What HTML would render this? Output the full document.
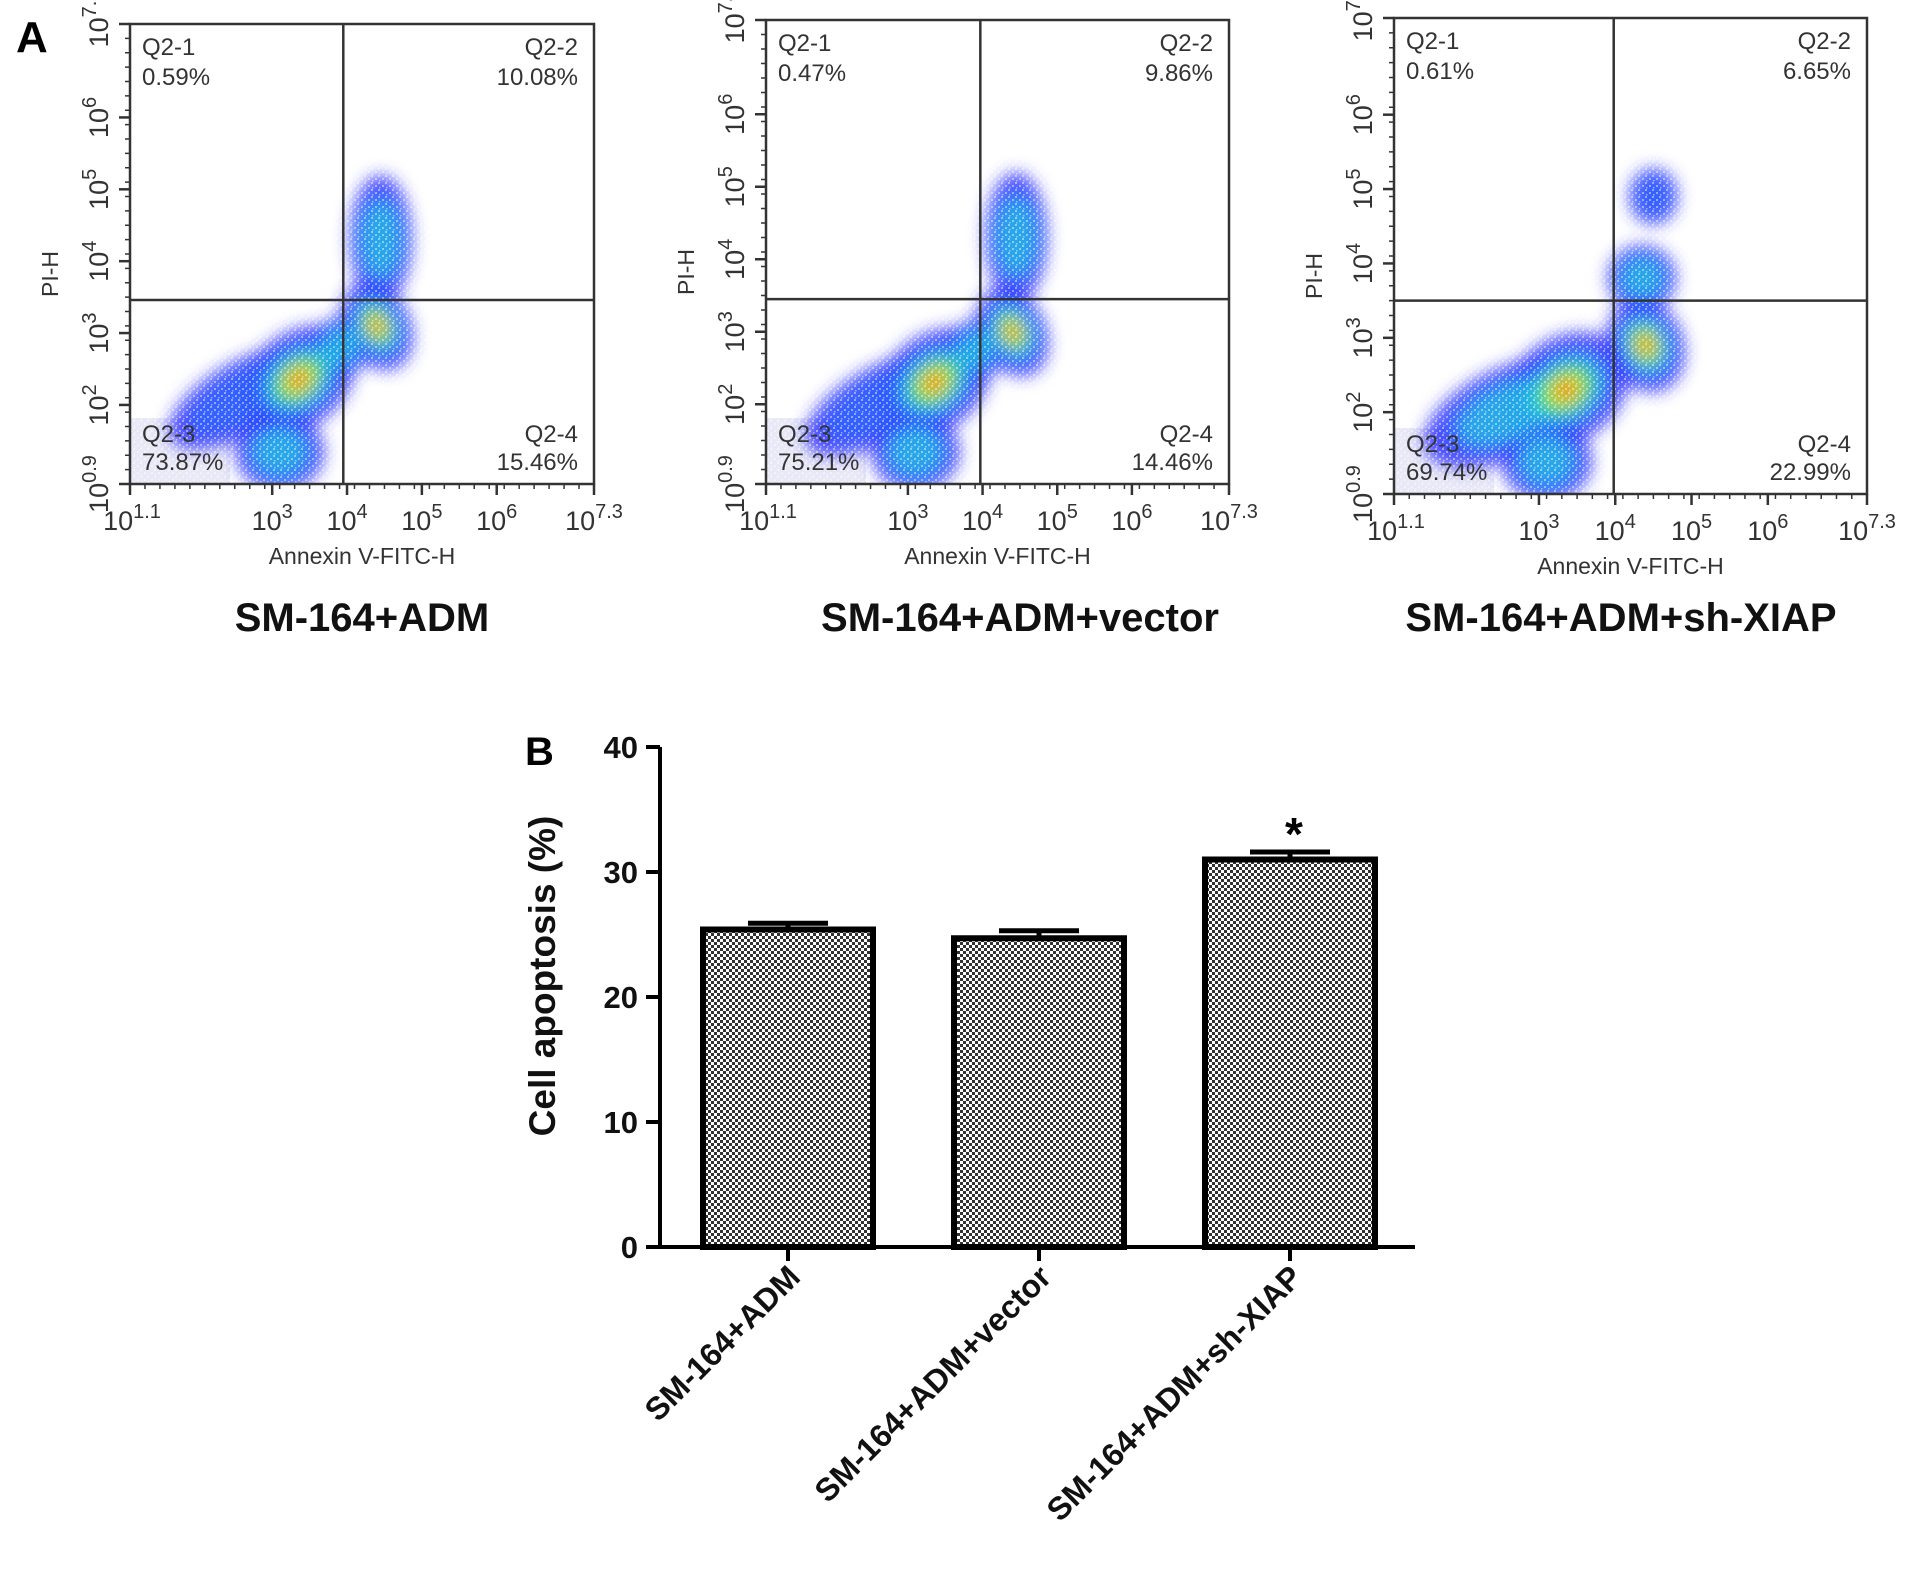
<!DOCTYPE html>
<html><head><meta charset="utf-8"><style>
html,body{margin:0;padding:0;background:#fff;width:1913px;height:1586px;overflow:hidden}
svg{display:block;font-family:"Liberation Sans",Arial,sans-serif}
</style></head><body>
<svg id="fig" width="1913" height="1586" viewBox="0 0 1913 1586">
<defs>
<filter id="blur" x="-50%" y="-50%" width="200%" height="200%"><feGaussianBlur stdDeviation="8"/></filter>
<pattern id="hatch" width="6" height="6" patternUnits="userSpaceOnUse">
<rect width="6" height="6" fill="#fff"/><rect width="3" height="3" fill="#333"/><rect x="3" y="3" width="3" height="3" fill="#333"/>
</pattern>
<pattern id="speck" width="7" height="7" patternUnits="userSpaceOnUse">
<rect x="0" y="0" width="2" height="2" fill="#fff"/><rect x="4" y="3" width="2" height="2" fill="#fff"/><rect x="1" y="5" width="1.5" height="1.5" fill="#fff"/>
</pattern>
</defs>
<text x="16" y="52" font-size="44" font-weight="bold">A</text>
<text x="525" y="765" font-size="40" font-weight="bold">B</text>
<g id="flow"></g>
<g id="bars"></g>
</svg>
<script>
// ---------- Flow cytometry panels ----------
const panelTitles = ["SM-164+ADM", "SM-164+ADM+vector", "SM-164+ADM+sh-XIAP"];
const q1Values = ["0.59%", "0.47%", "0.61%"];
const q2Values = ["10.08%", "9.86%", "6.65%"];
const q3Values = ["73.87%", "75.21%", "69.74%"];
const q4Values = ["15.46%", "14.46%", "22.99%"];
const gateX = [3.95, 3.97, 3.98];
const gateY = [3.46, 3.45, 3.5];
const xTicks = [1.1, 3, 4, 5, 6, 7.3];
const xTickLabels = ["1.1", "3", "4", "5", "6", "7.3"];
const yTicks = [0.9, 2, 3, 4, 5, 6, 7.3];
const yTickLabels = ["0.9", "2", "3", "4", "5", "6", "7."];
// clusters: [logX, logY, spreadX, spreadY, tiltDeg, density]
const clusters1 = [[2.6,2.1,1.1,0.5,30,0.4],[3.35,2.35,0.85,0.65,40,1],[3.1,1.35,0.6,0.55,0,0.5],[4.4,3.1,0.45,0.65,25,0.95],[4.45,4.3,0.42,0.9,0,0.45],[3.9,2.8,0.5,0.4,40,0.5]];
const clusters2 = [[2.6,2.0,1.1,0.5,30,0.4],[3.35,2.3,0.85,0.65,40,1],[3.1,1.35,0.6,0.55,0,0.5],[4.4,3.0,0.45,0.65,25,0.95],[4.45,4.3,0.42,0.9,0,0.45],[3.9,2.75,0.5,0.4,40,0.5]];
const clusters3 = [[2.6,2.0,1.2,0.6,25,0.45],[3.35,2.3,0.9,0.7,35,1],[3.1,1.35,0.6,0.55,0,0.5],[4.4,2.9,0.5,0.65,20,0.9],[4.35,3.8,0.45,0.45,0,0.45],[4.5,4.9,0.32,0.38,0,0.4]];
const allClusters = [clusters1, clusters2, clusters3];
const boxes = [[130,24,594,484],[766,20,1229,484],[1394,18,1867,494]];
const titleX = [362, 1020, 1621];

const NS = "http://www.w3.org/2000/svg";
function mk(tag, attrs, parent){const e=document.createElementNS(NS,tag);for(const k in attrs)e.setAttribute(k,attrs[k]);parent.appendChild(e);return e;}
const flow = document.getElementById("flow");

boxes.forEach((b,i)=>{
  const [x0,y0,x1,y1]=b, W=x1-x0, H=y1-y0;
  const sx = v => x0 + (v-1.1)/6.2*W;
  const sy = v => y1 - (v-0.9)/6.4*H;
  const g = mk("g",{},flow);
  
  
  const cp = mk("clipPath",{id:"cp"+i},g);
  mk("rect",{x:x0,y:y0,width:W,height:H},cp);
  const dens = mk("g",{"clip-path":"url(#cp"+i+")"},g);
  mk("rect",{x:x0,y:y1-66,width:100,height:66,fill:"#e8e8f6"},dens);
  const blobs = mk("g",{filter:"url(#blur)"},dens);
  const layers=[[1.0,"#2e2eff",0.85,0],[0.72,"#2a6bff",0.7,0.3],[0.58,"#22c8e0",0.7,0.45],[0.44,"#3ee040",0.8,0.55],[0.28,"#e4e020",0.85,0.85],[0.14,"#ff3a10",0.9,0.9]];
  layers.forEach(([s,col,op,minD])=>{
    allClusters[i].forEach(c=>{
      if(c[5]<minD) return;
      const cx=sx(c[0]), cy=sy(c[1]);
      const rx=c[2]/6.2*W*s, ry=c[3]/6.4*H*s;
      const e=mk("ellipse",{cx:cx,cy:cy,rx:rx,ry:ry,fill:col,opacity:op,transform:`rotate(${-c[4]} ${cx} ${cy})`},blobs);
      
      
    });
  });
  mk("rect",{x:x0,y:y0,width:W,height:H,fill:"url(#speck)",opacity:0.45},dens);
  const box=mk("rect",{x:x0,y:y0,width:W,height:H,fill:"none",stroke:"#333","stroke-width":2.5},g);
  
  
  const gv=mk("line",{x1:sx(gateX[i]),x2:sx(gateX[i]),y1:y0,y2:y1,stroke:"#333","stroke-width":2.5},g);
  
  
  const gh=mk("line",{x1:x0,x2:x1,y1:sy(gateY[i]),y2:sy(gateY[i]),stroke:"#333","stroke-width":2.5},g);
  
  
  for(let v=1.1;v<=7.3;v+=0.2){mk("line",{x1:sx(v),x2:sx(v),y1:y1,y2:y1+5,stroke:"#333","stroke-width":1.5},g);}
  for(let v=0.9;v<=7.3;v+=0.2){mk("line",{x1:x0,x2:x0-5,y1:sy(v),y2:sy(v),stroke:"#333","stroke-width":1.5},g);}
  xTicks.forEach((t,k)=>{
    mk("line",{x1:sx(t),x2:sx(t),y1:y1,y2:y1+11,stroke:"#333","stroke-width":2.5},g);
    const tx=mk("text",{x:sx(t)+(k==0?2:0),y:y1+46,"font-size":27,fill:"#333","text-anchor":"middle"},g);
    
    
    tx.innerHTML=`10<tspan dy="-12" font-size="20">${xTickLabels[k]}</tspan>`;
  });
  yTicks.forEach((t,k)=>{
    mk("line",{x1:x0,x2:x0-11,y1:sy(t),y2:sy(t),stroke:"#333","stroke-width":2.5},g);
    const px=x0-22, py=sy(t);
    const ty=mk("text",{x:px,y:py,"font-size":27,fill:"#333","text-anchor":"middle",transform:`rotate(-90 ${px} ${py})`},g);
    
    
    ty.innerHTML=`10<tspan dy="-12" font-size="20">${yTickLabels[k]}</tspan>`;
  });
  const yl=mk("text",{x:x0-72,y:(y0+y1)/2+20,"font-size":23,fill:"#333","text-anchor":"middle",transform:`rotate(-90 ${x0-72} ${(y0+y1)/2+20})`},g);
  yl.textContent="PI-H";
  
  
  const xl=mk("text",{x:(x0+x1)/2,y:y1+80,"font-size":23,fill:"#333","text-anchor":"middle"},g);
  xl.textContent="Annexin V-FITC-H";
  
  
  const tt=mk("text",{x:titleX[i],y:631,"font-size":40,"font-weight":"bold",fill:"#111","text-anchor":"middle"},g);
  tt.textContent=panelTitles[i];
  
  
  const q=[["Q2-1",q1Values[i],x0+12,y0+31,"start"],["Q2-2",q2Values[i],x1-16,y0+31,"end"],["Q2-3",q3Values[i],x0+12,y1-42,"start"],["Q2-4",q4Values[i],x1-16,y1-42,"end"]];
  q.forEach(([a,bv,qx,qy,an],qi)=>{
    const t1=mk("text",{x:qx,y:qy,"font-size":24,fill:"#333","text-anchor":an},g);
    t1.textContent=a;
    
    
    const t2=mk("text",{x:qx,y:qy+(qi<2?30:28),"font-size":24,fill:"#333","text-anchor":an},g);
    t2.textContent=bv;
    
    
  });
});

// ---------- Bar chart ----------
const barCategories = ["SM-164+ADM", "SM-164+ADM+vector", "SM-164+ADM+sh-XIAP"];
const barValues = [25.4, 24.7, 31.0];
const barErrors = [0.5, 0.6, 0.6];
const barSignif = ["", "", "*"];
const barTicks = [0, 10, 20, 30, 40];

const bars=document.getElementById("bars");
const AX=660, AY0=1247, AY40=747, AXR=1415;
const yS=v=>AY0-(v/40)*(AY0-AY40);
const xC=i=>788+i*251;
const BW=170;
barValues.forEach((v,i)=>{
  const cx=xC(i);
  const eb=mk("g",{},bars);
  const top=yS(v+barErrors[i]);
  mk("line",{x1:cx,x2:cx,y1:yS(v),y2:top,stroke:"#000","stroke-width":5},eb);
  mk("line",{x1:cx-40,x2:cx+40,y1:top,y2:top,stroke:"#000","stroke-width":5},eb);
  
  
  const r=mk("rect",{x:cx-BW/2,y:yS(v),width:BW,height:AY0-yS(v),fill:"url(#hatch)",stroke:"#000","stroke-width":6},bars);
  
  
  mk("line",{x1:cx,x2:cx,y1:AY0,y2:AY0+14,stroke:"#000","stroke-width":4},bars);
  if(barSignif[i]){
    const s=mk("text",{x:cx+4,y:top-2,"font-size":46,"font-weight":"bold","text-anchor":"middle"},bars);
    s.textContent=barSignif[i];
    
    
  }
  const lx=cx+14, ly=AY0+32;
  const lt=mk("text",{x:lx,y:ly,"font-size":32,"font-weight":"bold","text-anchor":"end",fill:"#111",transform:`rotate(-45 ${lx} ${ly})`},bars);
  lt.textContent=barCategories[i];
  
  
});
const ya=mk("line",{x1:AX,x2:AX,y1:AY40,y2:AY0+2,stroke:"#000","stroke-width":4},bars);


const xa=mk("line",{x1:AX-2,x2:AXR,y1:AY0,y2:AY0,stroke:"#000","stroke-width":4},bars);


barTicks.forEach(t=>{
  mk("line",{x1:AX,x2:AX-14,y1:yS(t),y2:yS(t),stroke:"#000","stroke-width":4},bars);
  const tl=mk("text",{x:AX-22,y:yS(t)+11,"font-size":31,"font-weight":"bold","text-anchor":"end",fill:"#111"},bars);
  tl.textContent=t;
  
  
});
const yt=mk("text",{x:555,y:976,"font-size":37,"font-weight":"bold","text-anchor":"middle",fill:"#111",transform:"rotate(-90 555 976)"},bars);
yt.textContent="Cell apoptosis (%)";


</script>
</body></html>
